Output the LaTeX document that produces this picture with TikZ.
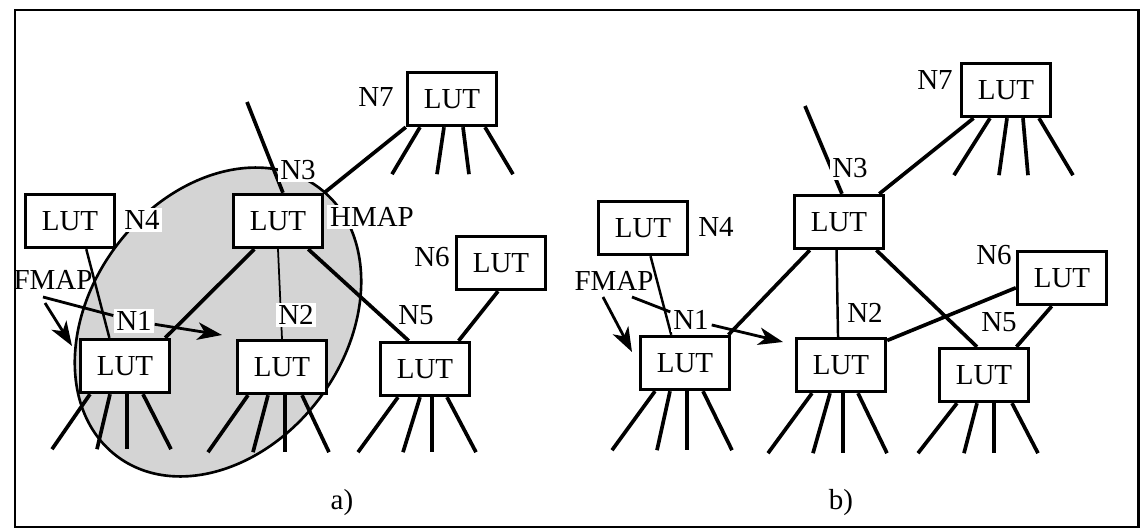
\documentclass[tikz,border=0pt]{standalone}
\usepackage{fontspec}
\setmainfont{Liberation Serif}
\usetikzlibrary{arrows.meta,calc}

\tikzset{
  lut/.style={draw, fill=white, line width=1.6pt, minimum width=51pt, minimum height=30.5pt, inner sep=0pt},
  lbl/.style={fill=white, inner sep=1.5pt},
  wire/.style={line width=2.1pt},
  midwire/.style={line width=1.4pt},
  finewire/.style={line width=1pt},
  maparrow/.style={line width=1.6pt, -{Stealth[length=14pt,width=10pt,inset=4pt]}},
  hmapfill/.style={draw, fill=black!17, line width=1.5pt}
}
\newcommand{\fanout}[3]{%
  \foreach \s/\e in {#2}
    \draw[wire] ($(#1.south)+(\s,0)$) -- ($(#1.south)+(\e,#3)$);%
}

\begin{document}
\begin{tikzpicture}[x=0.02cm, y=-0.02cm, font=\fontsize{16.5}{19}\selectfont]
    \useasboundingbox (0,0) rectangle (1144,531);
    \draw[line width=1.7pt] (15,10) rectangle (1138,527);

    % a) shaded HMAP region
    \draw[hmapfill, rotate around={53:(218,322)}] (218,322) ellipse [x radius=168, y radius=127];

    % a) LUTs
    \node[lut] (aN4) at (70,221) {LUT};
    \node[lut] (aN3) at (278,221) {LUT};
    \node[lut] (aN7) at (452,99) {LUT};
    \node[lut] (aN6) at (501,263) {LUT};
    \node[lut] (aN1) at (125,366) {LUT};
    \node[lut] (aN2) at (282,367) {LUT};
    \node[lut] (aN5) at (425,369) {LUT};

    % a) nets
    \coordinate (aTop) at (247,102);
    \draw[wire] (aTop) -- (aN3.80);
    \draw[wire] (aN7.south west) -- (aN3.north east);
    \draw[wire] (aN3.230) -- (aN1.35);
    \draw[finewire] (aN3.south) -- (aN2.north);
    \draw[wire] (aN3.-43) -- (aN5.120);
    \draw[wire] (aN6.-96) -- (aN5.40);
    \draw[midwire] (aN4.-60) -- (aN1.119);
    \fanout{aN1}{-35/-73,-15/-28,2/2,18/46}{55}
    \fanout{aN2}{-34/-74,-14/-29,3/3,20/47}{57}
    \fanout{aN5}{-27/-67,-5/-22,7/7,22/51}{55}
    \fanout{aN7}{-32/-60,-8/-15,11/17,33/61}{47}

    % a) labels
    \node[lbl] (aL4) at (142,220) {N4};
    \node[lbl] (aL3) at (298,170) {N3};
    \node[lbl] (aLh) at (372,217) {HMAP};
    \node[lbl] (aL7) at (376,97) {N7};
    \node[lbl] (aL6) at (432,257) {N6};
    \node[lbl] (aL5) at (416,315) {N5};
    \node[lbl] (aL2) at (296,315) {N2};
    \node[lbl] (aL1) at (134,321) {N1};
    \node (aLf) at (53,280) {FMAP};
    \node (aCap) at (342,503) {a)};

    % a) mapping arrows
    \coordinate (aF1) at (43,297);
    \coordinate (aT1) at (222,335);
    \coordinate (aF2) at (45,303);
    \coordinate (aT2) at (72,346);
    \draw[line width=1.6pt] (aF1) -- (aL1);
    \draw[maparrow] (aL1) -- (aT1);
    \draw[maparrow] (aF2) -- (aT2);

    % b) LUTs
    \node[lut] (bN4) at (643,228) {LUT};
    \node[lut] (bN3) at (839,222) {LUT};
    \node[lut] (bN7) at (1006,90) {LUT};
    \node[lut] (bN6) at (1062,278) {LUT};
    \node[lut] (bN1) at (685,363) {LUT};
    \node[lut] (bN2) at (841,365) {LUT};
    \node[lut] (bN5) at (984,375) {LUT};

    % b) nets
    \coordinate (bTop) at (805,106);
    \draw[wire] (bTop) -- (bN3.84);
    \draw[wire] (bN7.221) -- (bN3.35);
    \draw[wire] (bN3.224) -- (bN1.33);
    \draw[midwire] (bN3.265) -- (bN2.96);
    \draw[wire] (bN3.-37) -- (bN5.104);
    \draw[wire] (bN6.-110) -- (bN5.41);
    \draw[wire] (bN6.192) -- (bN2.28);
    \draw[midwire] (bN4.-75) -- (bN1.116);
    \fanout{bN1}{-30/-73,-15/-28,2/2,18/47}{59}
    \fanout{bN2}{-29/-73,-11/-28,2/2,17/46}{60}
    \fanout{bN5}{-27/-66,-7/-20,10/10,28/54}{50}
    \fanout{bN7}{-16/-52,1/-7,17/22,33/67}{57}

    % b) labels
    \node[lbl] (bL4) at (716,227) {N4};
    \node[lbl] (bL3) at (850,168) {N3};
    \node[lbl] (bL7) at (935,80) {N7};
    \node[lbl] (bL6) at (994,255) {N6};
    \node[lbl] (bL5) at (999,322) {N5};
    \node[lbl] (bL2) at (865,313) {N2};
    \node[lbl] (bL1) at (691,320) {N1};
    \node (bLf) at (614,281) {FMAP};
    \node (bCap) at (841,503) {b)};

    % b) mapping arrows
    \coordinate (bF1) at (632,297);
    \coordinate (bT1) at (783,342);
    \coordinate (bF2) at (603,297);
    \coordinate (bT2) at (632,352);
    \draw[line width=1.6pt] (bF1) -- (bL1);
    \draw[maparrow] (bL1) -- (bT1);
    \draw[maparrow] (bF2) -- (bT2);
\end{tikzpicture}
\end{document}
